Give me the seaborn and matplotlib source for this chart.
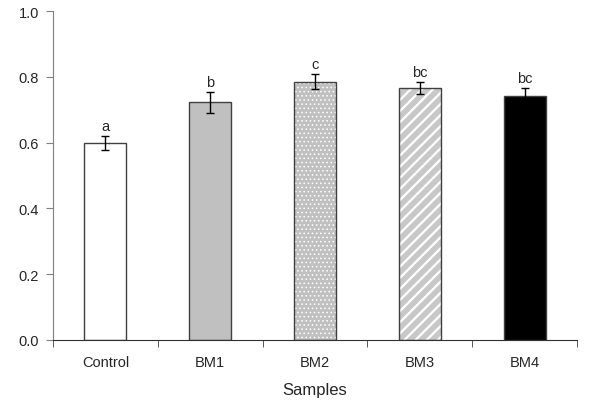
import matplotlib
matplotlib.use("Agg")
import matplotlib.pyplot as plt
import seaborn as sns
import pandas as pd
import numpy as np
from matplotlib.patches import Rectangle

samples = ["Control", "BM1", "BM2", "BM3", "BM4"]
values = [0.598, 0.722, 0.785, 0.766, 0.741]
errors = [0.022, 0.031, 0.022, 0.018, 0.024]
letters = ["a", "b", "c", "bc", "bc"]

face_colors = ["white", "#c0c0c0", "#c0c0c0", "#c8c8c8", "black"]
hatches = [None, None, "....", "///", None]

sns.set_style("white")
plt.rcParams["font.family"] = ["Liberation Sans", "DejaVu Sans"]
plt.rcParams["hatch.linewidth"] = 1.6

df = pd.DataFrame({"sample": samples, "value": values})

fig = plt.figure(figsize=(6.1, 4.02), dpi=100)
ax = fig.add_axes([53 / 610, 1 - 341 / 402, (577 - 53) / 610, (341 - 12) / 402])

sns.barplot(data=df, x="sample", y="value", hue="sample", palette=face_colors,
            width=0.4, errorbar=None, legend=False, ax=ax, saturation=1)

for i, p in enumerate(ax.patches[:len(samples)]):
    p.set_edgecolor("#404040")
    p.set_linewidth(1.0)
    if hatches[i]:
        # hatch in white, then redraw the outline on top
        p.set_edgecolor("white")
        p.set_linewidth(0)
        p.set_hatch(hatches[i])
        if hasattr(p, "set_hatch_linewidth"):
            p.set_hatch_linewidth(1.6 if "/" in hatches[i] else 0.6)
        ax.add_patch(Rectangle(p.get_xy(), p.get_width(), p.get_height(),
                               fill=False, edgecolor="#404040", linewidth=1.0, zorder=p.get_zorder() + 0.1))

x = np.arange(len(samples))
ax.errorbar(x, values, yerr=errors, fmt="none", ecolor="black", elinewidth=1, capsize=3, capthick=1)

for xi, v, e, t in zip(x, values, errors, letters):
    ax.text(xi, v + e + 0.01, t, ha="center", va="bottom", fontsize=10.5)

ax.set_ylim(0, 1.0)
ax.set_xlim(-0.5, len(samples) - 0.5)
ax.set_yticks(np.arange(0, 1.01, 0.2))
ax.set_yticklabels([f"{t:.1f}" for t in np.arange(0, 1.01, 0.2)])
ax.set_xticks(x)
ax.set_xticks(np.arange(-0.5, len(samples), 1), minor=True)
ax.tick_params(axis="x", which="major", length=0, pad=11, labelsize=10.5)
ax.tick_params(axis="x", which="minor", length=5, direction="out", color="#404040", bottom=True)
ax.tick_params(axis="y", length=5, direction="out", color="#7f7f7f", left=True, labelsize=10.5, pad=5)

ax.set_xlabel("Samples", fontsize=12, labelpad=9)
ax.set_ylabel("")

ax.spines["right"].set_visible(False)
ax.spines["top"].set_visible(False)
ax.spines["left"].set_color("#7f7f7f")
ax.spines["bottom"].set_color("#303030")

fig.savefig("out.png", dpi=100)
